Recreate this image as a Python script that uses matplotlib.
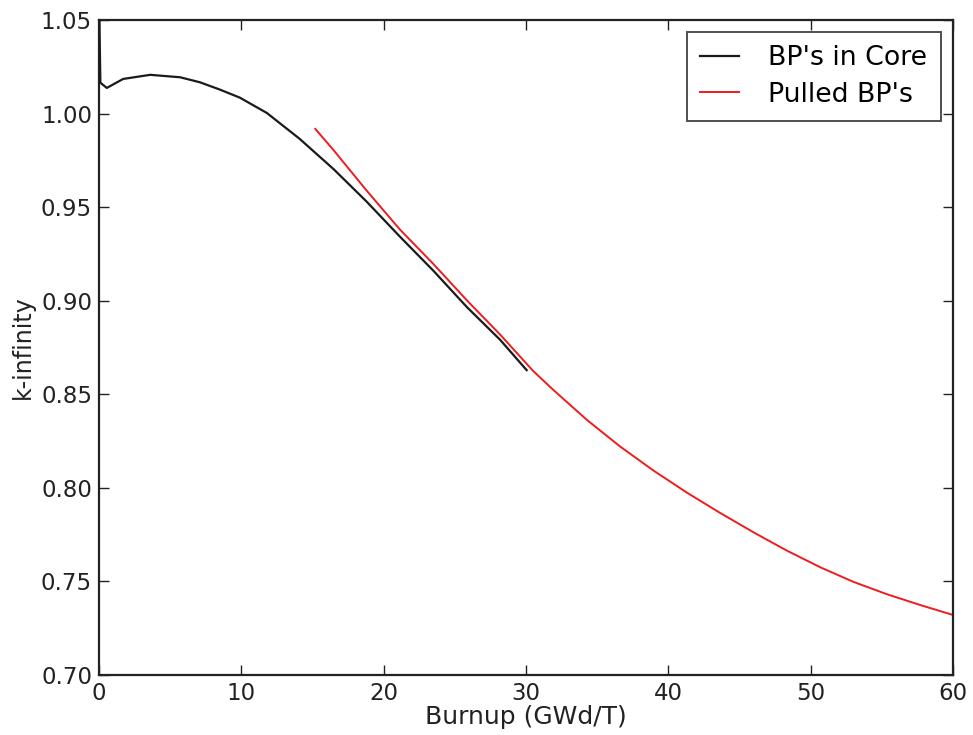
import matplotlib
matplotlib.use("Agg")
import matplotlib.pyplot as plt

# BP's in Core
core_burnup = [0.0, 0.1, 0.55, 1.7, 3.6, 5.7, 7.1, 8.5, 9.9, 11.8, 14.1, 16.5,
               18.8, 21.15, 23.5, 25.85, 28.2, 30.05]
core_k = [1.065, 1.0165, 1.0137, 1.0185, 1.0207, 1.0194, 1.0167, 1.0128, 1.0085,
          1.0003, 0.9865, 0.9702, 0.9530, 0.9342, 0.9160, 0.8966, 0.8790, 0.8629]

# Pulled BP's
pulled_burnup = [15.2, 16.5, 18.8, 21.15, 23.5, 25.85, 28.2, 30.5, 31.9, 34.3,
                 36.6, 38.95, 41.3, 43.6, 46.0, 48.3, 50.7, 53.0, 55.35, 57.7, 60.0]
pulled_k = [0.9918, 0.9803, 0.9589, 0.9380, 0.9196, 0.9002, 0.8818, 0.8625, 0.8525,
            0.8362, 0.8222, 0.8093, 0.7975, 0.7868, 0.7762, 0.7666, 0.7575, 0.7498,
            0.7432, 0.7374, 0.7321]

xticks = [0, 10, 20, 30, 40, 50, 60]
yticks = [0.70, 0.75, 0.80, 0.85, 0.90, 0.95, 1.00, 1.05]

fig = plt.figure(figsize=(9.73, 7.35), dpi=100)
ax = fig.add_axes([0.1017, 0.0816, 0.8777, 0.8912])

ax.plot(pulled_burnup, pulled_k, color="#ee1c1c", lw=1.4, label="Pulled BP's", zorder=2)
ax.plot(core_burnup, core_k, color="#1a1a1a", lw=1.6, label="BP's in Core", zorder=3)

ax.set_xlim(0, 60)
ax.set_ylim(0.70, 1.05)
ax.set_xticks(xticks)
ax.set_yticks(yticks)
ax.set_yticklabels([f"{v:.2f}" for v in yticks])
ax.tick_params(direction="in", top=True, right=True, labelsize=16.5, length=7, width=1,
               colors="#222222", pad=5)
for s in ax.spines.values():
    s.set_linewidth(1.6)
    s.set_color("#222222")

ax.set_xlabel("Burnup (GWd/T)", fontsize=18, color="#222222", labelpad=0)
ax.set_ylabel("k-infinity", fontsize=17, color="#222222", labelpad=4)

handles, labels = ax.get_legend_handles_labels()
leg = ax.legend(handles[::-1], labels[::-1], loc="upper right", fontsize=19.3,
                fancybox=False, frameon=True, handlelength=1.45, borderpad=0.5,
                labelspacing=0.38, handletextpad=1.1, borderaxespad=0.45)
leg.get_frame().set_edgecolor("#222222")
leg.get_frame().set_linewidth(1.4)

fig.savefig("out.png", dpi=100)
